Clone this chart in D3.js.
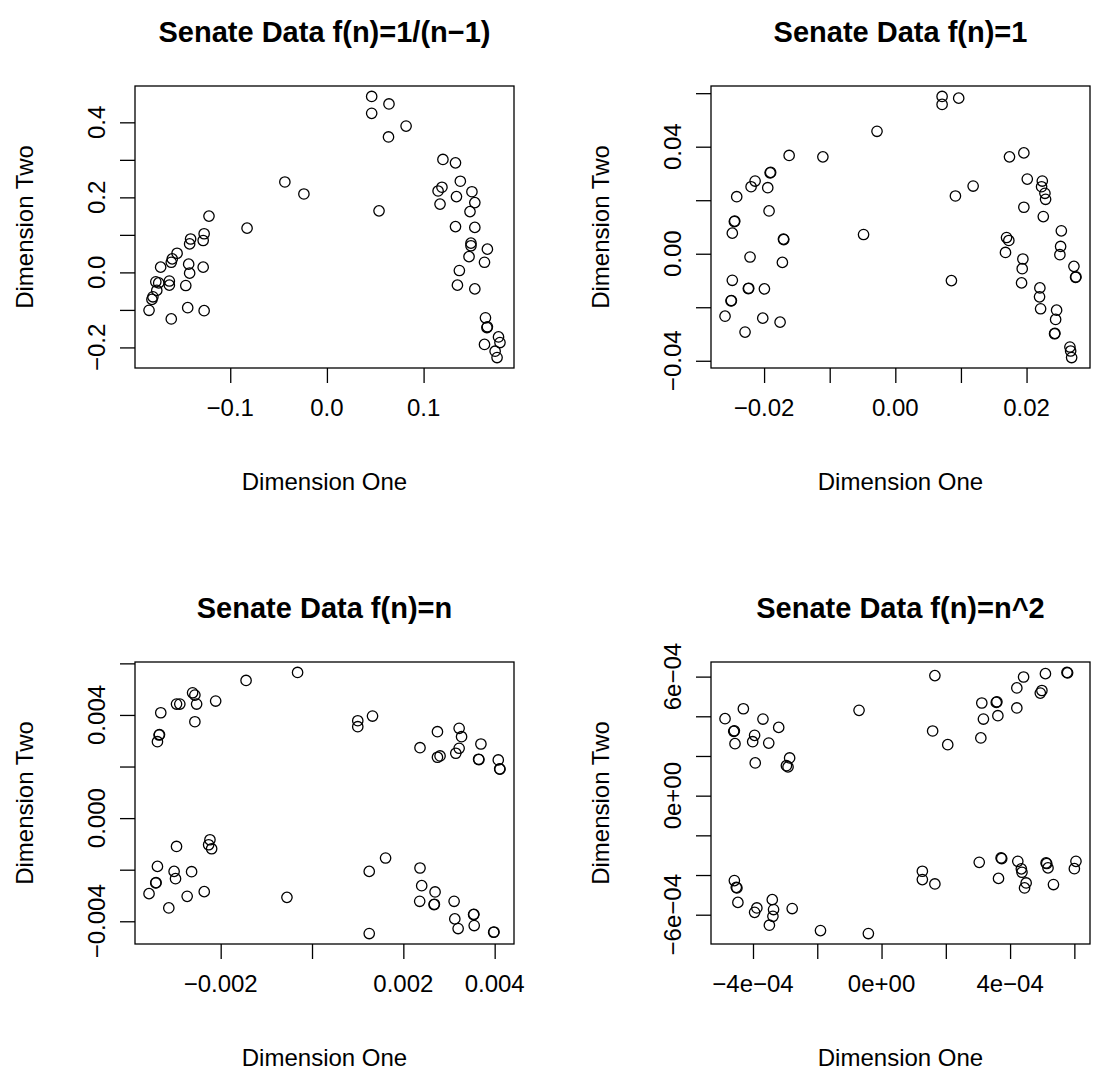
<!DOCTYPE html>
<html>
<head>
<meta charset="utf-8">
<script src="https://cdn.jsdelivr.net/npm/d3@7"></script>
<style>
  html, body { margin: 0; padding: 0; background: #fff; }
  svg { display: block; }
  text { font-family: "Liberation Sans", Arial, Helvetica, sans-serif; fill: #000; }
</style>
</head>
<body>
<svg id="chart" width="1096" height="1076"></svg>
<script>
// ---------- DATA ----------
const titles = [
  "Senate Data f(n)=1/(n\u22121)",
  "Senate Data f(n)=1",
  "Senate Data f(n)=n",
  "Senate Data f(n)=n^2"
];
const xAxisTitle = "Dimension One";
const yAxisTitle = "Dimension Two";

// Panel 1: f(n)=1/(n-1)
const p1x = [-0.122,-0.0826,-0.127,-0.141,-0.142,-0.128,-0.155,-0.160,-0.161,-0.172,-0.143,-0.128,-0.142,-0.177,-0.163,-0.163,-0.146,-0.176,-0.180,-0.181,-0.184,-0.161,-0.144,-0.127,-0.174,
  -0.0435,-0.0238,0.0539,0.0463,0.0463,0.0642,0.0637,0.0819,0.120,0.133,0.138,0.119,0.115,0.134,0.150,0.153,0.117,0.148,0.133,0.153,0.149,0.149,0.166,0.147,0.163,0.137,0.135,0.153,0.164,0.166,0.1655,0.1775,0.163,0.179,0.174,0.176];
const p1y = [0.150,0.118,0.103,0.089,0.076,0.085,0.051,0.036,0.027,0.014,0.022,0.014,-0.002,-0.025,-0.023,-0.034,-0.035,-0.048,-0.065,-0.072,-0.101,-0.124,-0.094,-0.102,-0.028,
  0.241,0.209,0.164,0.469,0.424,0.449,0.361,0.390,0.301,0.292,0.243,0.227,0.217,0.202,0.215,0.186,0.182,0.162,0.122,0.120,0.078,0.071,0.062,0.042,0.027,0.005,-0.034,-0.044,-0.121,-0.145,-0.147,-0.172,-0.192,-0.187,-0.210,-0.227];

// Panel 2: f(n)=1
const p2x = [-0.01618,-0.01908,-0.01900,-0.02137,-0.02198,-0.01944,-0.02417,-0.01924,-0.02453,-0.02447,-0.02484,-0.01705,-0.01700,-0.02214,-0.01721,-0.02484,-0.0224,-0.02234,-0.01995,-0.02504,-0.02498,-0.02595,-0.0202,-0.01756,-0.0229,
  0.00713,0.00713,0.00966,-0.00279,-0.01104,-0.00484,0.0174,0.01959,0.01186,0.00916,0.02011,0.0224,0.02229,0.0228,0.0229,0.01959,0.02255,0.0253,0.01695,0.0173,0.02519,0.02508,0.01679,0.01944,0.01934,0.01924,0.02722,0.02753,0.02747,0.00855,0.02203,0.02198,0.02214,0.02458,0.02443,0.02432,0.02427,0.02661,0.02672,0.02687];
const p2y = [0.03672,0.03025,0.03040,0.02716,0.02504,0.02467,0.02132,0.0160,0.01202,0.01220,0.0077,0.00547,0.00530,-0.00123,-0.00324,-0.00993,-0.01302,-0.01290,-0.01313,-0.0176,-0.0175,-0.02333,-0.02407,-0.02556,-0.02928,
  0.05878,0.0558,0.05815,0.04576,0.0362,0.00718,0.0362,0.03769,0.0253,0.02158,0.0279,0.02716,0.02504,0.02258,0.02035,0.01737,0.01388,0.00856,0.00606,0.00495,0.00272,-0.00037,0.00048,-0.00197,-0.00558,-0.0109,-0.00472,-0.00867,-0.00880,-0.01004,-0.01276,-0.01611,-0.02057,-0.02109,-0.02455,-0.02976,-0.02990,-0.03486,-0.03635,-0.0388];

// Panel 3: f(n)=n
const p3x = [-0.000316,-0.001444,-0.002615,-0.002565,-0.002967,-0.002895,-0.002527,-0.00211,-0.003312,-0.002565,-0.003349,-0.003340,-0.003385,0.001002,0.001002,0.001325,
  -0.002235,-0.002264,-0.002198,-0.002967,-0.003385,-0.00302,-0.002989,-0.002637,-0.003422,-0.003415,-0.003569,-0.003136,-0.002734,-0.00236,-0.000549,0.001253,0.001611,0.001253,
  0.002365,0.002747,0.003222,0.003275,0.002747,0.002804,0.003149,0.003222,0.003699,0.003648,0.003655,0.004079,0.004116,0.004110,
  0.002365,0.002402,0.002358,0.002695,0.002673,0.002680,0.003112,0.003127,0.0032,0.003538,0.003545,0.003552,0.003978,0.003985];
const p3y = [0.005648,0.005338,0.004859,0.00477,0.004422,0.004422,0.004422,0.004538,0.004085,0.003737,0.003222,0.003240,0.002963,0.003776,0.003544,0.003958,
  -0.000839,-0.001033,-0.001188,-0.001099,-0.001872,-0.002066,-0.002348,-0.002077,-0.002515,-0.002500,-0.002928,-0.003482,-0.003033,-0.002851,-0.003072,-0.002066,-0.001547,-0.004476,
  0.002731,0.00335,0.003482,0.003157,0.00236,0.00241,0.002515,0.002708,0.002874,0.002282,0.002270,0.002255,0.001896,0.001910,
  -0.001934,-0.002619,-0.003226,-0.002863,-0.003354,-0.003340,-0.003226,-0.003907,-0.004282,-0.003741,-0.003730,-0.004166,-0.004426,-0.004415];

// Panel 4: f(n)=n^2
const p4x = [-4.87e-4,-4.30e-4,-3.69e-4,-3.20e-4,-4.60e-4,-4.58e-4,-4.56e-4,-3.95e-4,-4.01e-4,-3.51e-4,-3.93e-4,-2.86e-4,-2.96e-4,-2.91e-4,-0.70e-4,
  1.66e-4,1.59e-4,2.06e-4,3.12e-4,3.17e-4,3.09e-4,3.57e-4,3.59e-4,3.62e-4,4.21e-4,4.42e-4,4.21e-4,5.10e-4,4.94e-4,4.99e-4,5.77e-4,5.79e-4,
  -4.58e-4,-4.52e-4,-4.50e-4,-4.47e-4,-3.88e-4,-3.95e-4,-3.40e-4,-3.36e-4,-3.38e-4,-3.49e-4,-2.78e-4,-1.90e-4,-0.41e-4,
  1.27e-4,1.27e-4,1.66e-4,3.04e-4,3.72e-4,3.74e-4,3.64e-4,4.24e-4,4.35e-4,4.37e-4,4.50e-4,4.45e-4,5.12e-4,5.14e-4,5.18e-4,5.35e-4,6.05e-4,6.00e-4];
const p4y = [3.88e-4,4.38e-4,3.86e-4,3.44e-4,3.24e-4,3.27e-4,2.62e-4,3.04e-4,2.72e-4,2.65e-4,1.65e-4,1.90e-4,1.51e-4,1.45e-4,4.30e-4,
  6.05e-4,3.26e-4,2.57e-4,4.67e-4,3.86e-4,2.91e-4,4.70e-4,4.73e-4,4.03e-4,5.43e-4,5.98e-4,4.42e-4,6.15e-4,5.17e-4,5.30e-4,6.21e-4,6.19e-4,
  -4.28e-4,-4.62e-4,-4.65e-4,-5.38e-4,-5.66e-4,-5.88e-4,-5.24e-4,-5.74e-4,-6.08e-4,-6.53e-4,-5.69e-4,-6.80e-4,-6.95e-4,
  -3.81e-4,-4.23e-4,-4.45e-4,-3.36e-4,-3.14e-4,-3.17e-4,-4.17e-4,-3.31e-4,-3.69e-4,-3.86e-4,-4.40e-4,-4.65e-4,-3.39e-4,-3.42e-4,-3.64e-4,-4.48e-4,-3.31e-4,-3.68e-4];

// Tick values and labels ("" = tick without label, as R drops overlapping labels)
const p1XTicks = [-0.1, 0, 0.1];
const p1XLabels = ["\u22120.1", "0.0", "0.1"];
const p1YTicks = [-0.2, -0.1, 0, 0.1, 0.2, 0.3, 0.4];
const p1YLabels = ["\u22120.2", "", "0.0", "", "0.2", "", "0.4"];

const p2XTicks = [-0.02, -0.01, 0, 0.01, 0.02];
const p2XLabels = ["\u22120.02", "", "0.00", "", "0.02"];
const p2YTicks = [-0.04, -0.02, 0, 0.02, 0.04, 0.06];
const p2YLabels = ["\u22120.04", "", "0.00", "", "0.04", ""];

const p3XTicks = [-0.002, 0, 0.002, 0.004];
const p3XLabels = ["\u22120.002", "", "0.002", "0.004"];
const p3YTicks = [-0.004, -0.002, 0, 0.002, 0.004, 0.006];
const p3YLabels = ["\u22120.004", "", "0.000", "", "0.004", ""];

const p4XTicks = [-4e-4, -2e-4, 0, 2e-4, 4e-4, 6e-4];
const p4XLabels = ["\u22124e\u221204", "", "0e+00", "", "4e\u221204", ""];
const p4YTicks = [-6e-4, -4e-4, -2e-4, 0, 2e-4, 4e-4, 6e-4];
const p4YLabels = ["\u22126e\u221204", "", "", "0e+00", "", "", "6e\u221204"];

// ---------- LAYOUT ----------
const panels = [
  { title: titles[0], xs: p1x, ys: p1y, xt: p1XTicks, xl: p1XLabels, yt: p1YTicks, yl: p1YLabels, col: 0, row: 0 },
  { title: titles[1], xs: p2x, ys: p2y, xt: p2XTicks, xl: p2XLabels, yt: p2YTicks, yl: p2YLabels, col: 1, row: 0 },
  { title: titles[2], xs: p3x, ys: p3y, xt: p3XTicks, xl: p3XLabels, yt: p3YTicks, yl: p3YLabels, col: 0, row: 1 },
  { title: titles[3], xs: p4x, ys: p4y, xt: p4XTicks, xl: p4XLabels, yt: p4YTicks, yl: p4YLabels, col: 1, row: 1 }
];

const cell = 576;
const box = { left: 135, top: 86, width: 379, height: 282 };
const fs = 24;          // axis text size
const fsMain = 29;      // title size
const tickLen = 15;
const lw = 1.3;

const svg = d3.select("#chart");
svg.append("rect").attr("width", 1096).attr("height", 1076).attr("fill", "#fff");

function paddedDomain(vals) {
  const [lo, hi] = d3.extent(vals);
  const pad = (hi - lo) * 0.04;   // R's default 4% axis extension
  return [lo - pad, hi + pad];
}

panels.forEach(p => {
  const ox = p.col * cell + box.left;
  const oy = p.row * cell + box.top;
  const g = svg.append("g").attr("transform", `translate(${ox},${oy})`);

  const x = d3.scaleLinear().domain(paddedDomain(p.xs)).range([0, box.width]);
  const y = d3.scaleLinear().domain(paddedDomain(p.ys)).range([box.height, 0]);

  // x axis ticks
  const xa = d3.axisBottom(x).tickValues(p.xt).tickFormat(() => "").tickSize(tickLen).tickSizeOuter(0);
  const gx = g.append("g").attr("transform", `translate(0,${box.height})`).call(xa);
  gx.select(".domain").remove();
  gx.selectAll(".tick line").attr("stroke", "#000").attr("stroke-width", lw);
  gx.selectAll(".tick text").remove();
  g.append("g").selectAll("text").data(p.xt).join("text")
    .attr("x", d => x(d))
    .attr("y", box.height + 39 + 0.36 * fs)
    .attr("text-anchor", "middle")
    .attr("font-size", fs)
    .text((d, i) => p.xl[i]);

  // y axis ticks
  const ya = d3.axisLeft(y).tickValues(p.yt).tickFormat(() => "").tickSize(tickLen).tickSizeOuter(0);
  const gy = g.append("g").call(ya);
  gy.select(".domain").remove();
  gy.selectAll(".tick line").attr("stroke", "#000").attr("stroke-width", lw);
  gy.selectAll(".tick text").remove();
  g.append("g").selectAll("text").data(p.yt).join("text")
    .attr("transform", d => `translate(${-38.5 + 0.36 * fs},${y(d)}) rotate(-90)`)
    .attr("text-anchor", "middle")
    .attr("font-size", fs)
    .text((d, i) => p.yl[i]);

  // box
  g.append("rect").attr("x", 0).attr("y", 0).attr("width", box.width).attr("height", box.height)
    .attr("fill", "none").attr("stroke", "#000").attr("stroke-width", lw);

  // points
  g.append("g").selectAll("circle").data(d3.zip(p.xs, p.ys)).join("circle")
    .attr("cx", d => x(d[0]))
    .attr("cy", d => y(d[1]))
    .attr("r", 5.2)
    .attr("fill", "none")
    .attr("stroke", "#000")
    .attr("stroke-width", lw);

  // titles
  g.append("text")
    .attr("x", box.width / 2)
    .attr("y", -54 + 0.36 * fsMain)
    .attr("text-anchor", "middle")
    .attr("font-size", fsMain)
    .attr("font-weight", "bold")
    .text(p.title);
  g.append("text")
    .attr("x", box.width / 2)
    .attr("y", box.height + 113 + 0.36 * fs)
    .attr("text-anchor", "middle")
    .attr("font-size", fs)
    .text(xAxisTitle);
  g.append("text")
    .attr("transform", `translate(${-111 + 0.36 * fs},${box.height / 2}) rotate(-90)`)
    .attr("text-anchor", "middle")
    .attr("font-size", fs)
    .text(yAxisTitle);
});
</script>
</body>
</html>
